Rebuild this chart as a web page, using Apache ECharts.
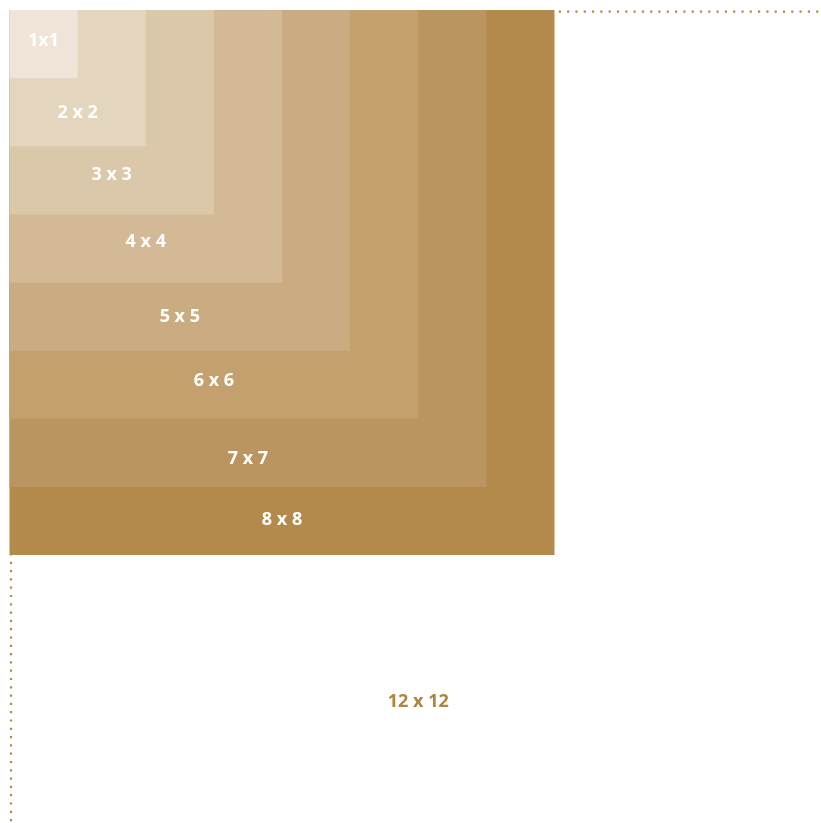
<!DOCTYPE html>
<html>
<head>
<meta charset="utf-8">
<script src="https://cdn.jsdelivr.net/npm/echarts@6/dist/echarts.min.js"></script>
<style>
html,body{margin:0;padding:0;background:#fff;}
#chart{width:821px;height:823px;}
</style>
</head>
<body>
<div id="chart"></div>
<script>
// Square sizes (n x n), drawn largest first
const sizes = [12, 8, 7, 6, 5, 4, 3, 2, 1];
const labels = ['12 x 12', '8 x 8', '7 x 7', '6 x 6', '5 x 5', '4 x 4', '3 x 3', '2 x 2', '1x1'];
const labelX = [6, 4, 3.5, 3, 2.5, 2, 1.5, 1, 0.5];
const labelY = [10.13, 7.45, 6.56, 5.42, 4.48, 3.38, 2.39, 1.48, 0.43];
const colors = ['#b08a45', '#b38a4b', '#ba955f', '#c3a06e', '#cbac82', '#d3b995', '#dbc8aa', '#e4d5bf', '#efe4d7'];

const data = sizes.map((n, i) => [n, labelX[i], labelY[i], i]);

const chart = echarts.init(document.getElementById('chart'));
chart.setOption({
  animation: false,
  grid: {left: 9.5, top: 10, width: 817.5, height: 817.5, outerBoundsMode: 'none', containLabel: false},
  xAxis: {type: 'value', min: 0, max: 12, show: false},
  yAxis: {type: 'value', min: 0, max: 12, inverse: true, show: false},
  series: [{
    type: 'custom',
    coordinateSystem: 'cartesian2d',
    clip: false,
    data: data,
    encode: {x: 1, y: 2},
    renderItem: function (params, api) {
      const n = api.value(0);
      const i = api.value(3);
      const p0 = api.coord([0, 0]);
      const p1 = api.coord([n, n]);
      const lp = api.coord([api.value(1), api.value(2)]);
      const dotted = n === 12;
      const rect = dotted ? {
        type: 'rect',
        shape: {x: p0[0] + 1.5, y: p0[1] + 1.7, width: p1[0] - p0[0] - 3, height: p1[1] - p0[1] - 3},
        style: {fill: null, stroke: colors[i], lineWidth: 2.2, lineDash: [2.2, 6.1]}
      } : {
        type: 'rect',
        shape: {x: p0[0], y: p0[1], width: p1[0] - p0[0], height: p1[1] - p0[1]},
        style: {fill: colors[i]}
      };
      return {
        type: 'group',
        children: [rect, {
          type: 'text',
          x: lp[0], y: lp[1] + 2,
          z2: 100,
          style: {
            text: labels[i],
            fill: dotted ? '#ad8540' : '#ffffff',
            font: 'bold 18px "Open Sans"',
            align: 'center',
            verticalAlign: 'middle'
          }
        }]
      };
    }
  }]
});
</script>
</body>
</html>
